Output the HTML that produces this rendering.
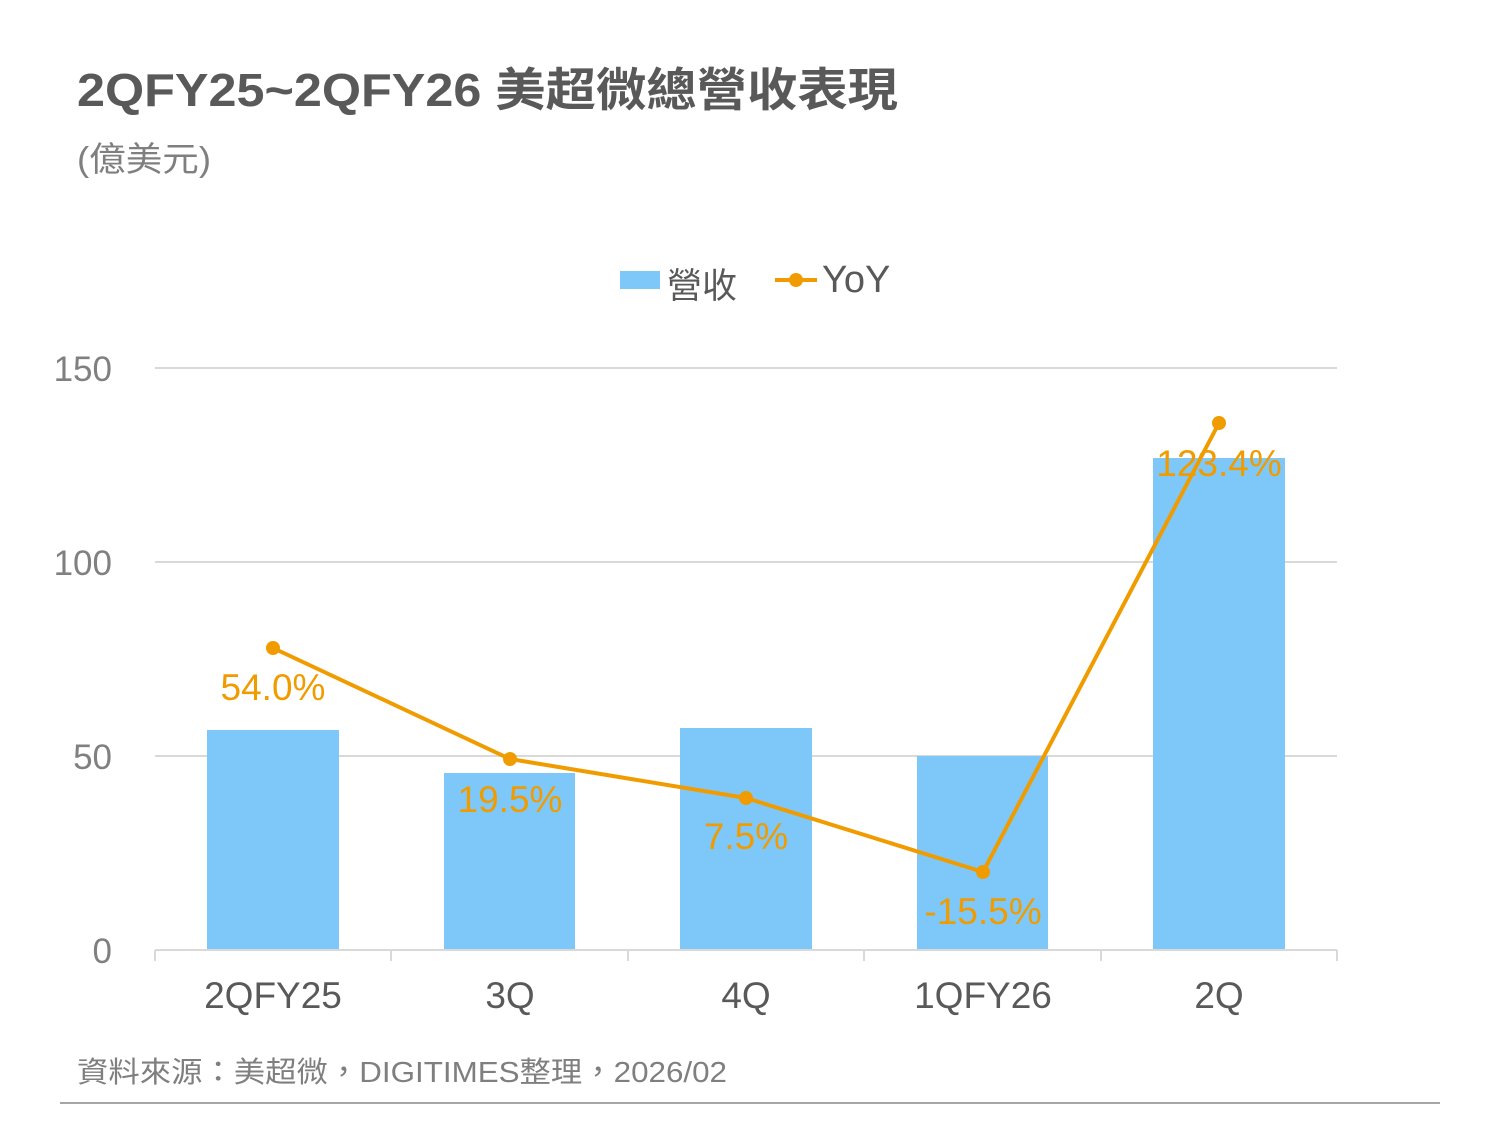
<!DOCTYPE html>
<html><head><meta charset="utf-8"><style>
body{margin:0;background:#fff;}
</style></head><body>
<svg width="1500" height="1125" viewBox="0 0 1500 1125" xmlns="http://www.w3.org/2000/svg" font-family="'Liberation Sans','Noto Sans CJK TC',sans-serif">
<rect width="1500" height="1125" fill="#fff"/>
<text x="77" y="106" font-size="46" font-weight="bold" fill="#595959" textLength="821" lengthAdjust="spacingAndGlyphs">2QFY25~2QFY26 美超微總營收表現</text>
<text x="77" y="171" font-size="34" fill="#7f7f7f" textLength="134" lengthAdjust="spacingAndGlyphs">(億美元)</text>
<g stroke="#d9d9d9" stroke-width="2">
<line x1="155" y1="368" x2="1337" y2="368"/>
<line x1="155" y1="562" x2="1337" y2="562"/>
<line x1="155" y1="756" x2="1337" y2="756"/>
</g>
<g fill="#7dc8f8">
<rect x="207" y="730" width="132" height="220"/>
<rect x="444" y="773" width="131" height="177"/>
<rect x="680" y="728" width="132" height="222"/>
<rect x="917" y="756" width="131" height="194"/>
<rect x="1153" y="458" width="132" height="492"/>
</g>
<g stroke="#d9d9d9" stroke-width="2">
<line x1="155" y1="950" x2="1337" y2="950"/>
<line x1="155" y1="950" x2="155" y2="961"/>
<line x1="391" y1="950" x2="391" y2="961"/>
<line x1="628" y1="950" x2="628" y2="961"/>
<line x1="864" y1="950" x2="864" y2="961"/>
<line x1="1101" y1="950" x2="1101" y2="961"/>
<line x1="1337" y1="950" x2="1337" y2="961"/>
</g>
<g font-size="35" fill="#808080" text-anchor="end">
<text x="112" y="381">150</text>
<text x="112" y="575">100</text>
<text x="112" y="769">50</text>
<text x="112" y="963">0</text>
</g>
<g font-size="37" fill="#595959" text-anchor="middle">
<text x="273" y="1008">2QFY25</text>
<text x="510" y="1008">3Q</text>
<text x="746" y="1008">4Q</text>
<text x="983" y="1008">1QFY26</text>
<text x="1219" y="1008">2Q</text>
</g>
<polyline points="273,648 510,759 746,798 983,872 1219,423" fill="none" stroke="#f09c00" stroke-width="4"/>
<g fill="#f09c00">
<circle cx="273" cy="648" r="7"/><circle cx="510" cy="759" r="7"/><circle cx="746" cy="798" r="7"/><circle cx="983" cy="872" r="7"/><circle cx="1219" cy="423" r="7"/>
</g>
<g font-size="37" fill="#f09c00" text-anchor="middle">
<text x="273" y="700">54.0%</text>
<text x="510" y="812">19.5%</text>
<text x="746" y="849">7.5%</text>
<text x="983" y="924">-15.5%</text>
<text x="1219" y="476">123.4%</text>
</g>
<rect x="620" y="271" width="40" height="18" fill="#7dc8f8"/>
<text x="667" y="298" font-size="35" fill="#595959">營收</text>
<line x1="775" y1="280" x2="817" y2="280" stroke="#f09c00" stroke-width="4"/>
<circle cx="796" cy="280" r="7" fill="#f09c00"/>
<text x="822" y="292" font-size="38" fill="#595959">YoY</text>
<text x="77" y="1082" font-size="29" fill="#7f7f7f" textLength="650" lengthAdjust="spacingAndGlyphs">資料來源：美超微，DIGITIMES整理，2026/02</text>
<line x1="60" y1="1103" x2="1440" y2="1103" stroke="#a6a6a6" stroke-width="2"/>
</svg>
</body></html>
